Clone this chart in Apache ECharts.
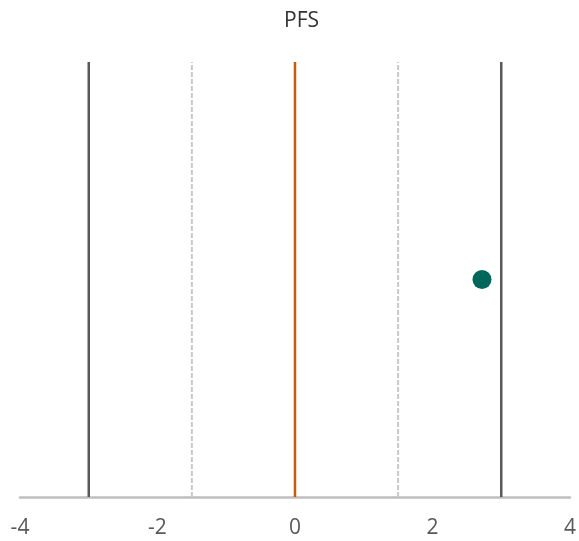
<!DOCTYPE html>
<html><head><meta charset="utf-8">
<script src="https://cdn.jsdelivr.net/npm/echarts@6/dist/echarts.min.js"></script>
<style>html,body{margin:0;padding:0;background:#fff}#c{width:579px;height:541px}</style>
</head><body><div id="c"></div>
<script>
const title = "PFS";
const xTicks = [-4, -2, 0, 2, 4];
const outerLines = [-3, 3];
const dashedLines = [-1.5, 1.5];
const centerLine = [0];
const pointX = [2.72];
const pointY = [0.5];

function vline(x, color, width, type) {
  return {
    type: 'line', data: [[x, 0], [x, 1]], symbol: 'none', silent: true,
    lineStyle: { color: color, width: width, type: type }, z: 2
  };
}
const series = [];
outerLines.forEach(x => series.push(vline(x, '#595959', 2.5, 'solid')));
dashedLines.forEach(x => series.push(vline(x, '#c8c8c8', 2, [5, 2])));
centerLine.forEach(x => series.push(vline(x, '#c55a11', 2.5, 'solid')));
series.push({
  type: 'scatter', data: pointX.map((x, i) => [x, pointY[i]]),
  symbolSize: 19, itemStyle: { color: '#00675a', opacity: 1 }, z: 5
});

const chart = echarts.init(document.getElementById('c'), null, { renderer: 'canvas' });
chart.setOption({
  animation: false,
  backgroundColor: '#fff',
  title: {
    text: title, left: 279, top: 6,
    textStyle: { fontFamily: 'Open Sans', fontSize: 21, fontWeight: 'normal', color: '#333333' }
  },
  grid: { left: 20, right: 7, top: 62, bottom: 44, containLabel: false },
  xAxis: {
    type: 'value', min: xTicks[0], max: xTicks[xTicks.length - 1], interval: 2,
    axisLine: { show: true, lineStyle: { color: '#bfbfbf', width: 2.5 } },
    axisTick: { show: false },
    splitLine: { show: false },
    axisLabel: { margin: 21, color: '#595959', fontSize: 21, fontFamily: 'Open Sans', showMinLabel: true, showMaxLabel: true }
  },
  yAxis: {
    type: 'value', min: 0, max: 1, show: false
  },
  series: series
});
</script></body></html>
